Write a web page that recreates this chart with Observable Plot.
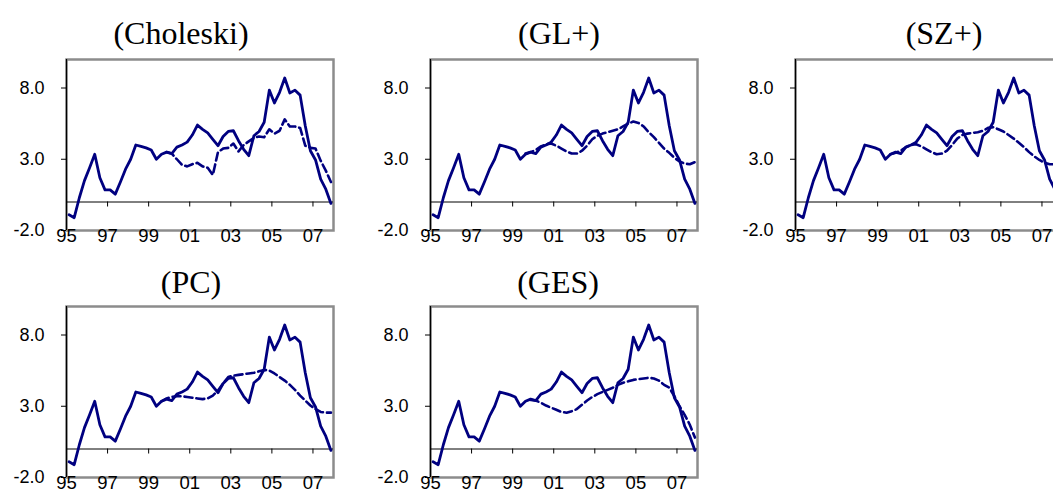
<!DOCTYPE html>
<html>
<head>
<meta charset="utf-8">
<script src="https://cdn.jsdelivr.net/npm/d3@7"></script>
<script src="https://cdn.jsdelivr.net/npm/@observablehq/plot@0.6"></script>
<style>
  html, body { margin: 0; padding: 0; background: #ffffff; overflow: hidden; }
  #wrap { position: relative; width: 1053px; height: 489px; overflow: hidden; background: #fff; }
  .panel { position: absolute; width: 364px; height: 247px; }
  .panel svg { max-width: none !important; }
</style>
</head>
<body>
<div id="wrap"></div>
<script>
// ---- data (quarterly, 1995Q1 .. 2007Q4) ----
const startYear = 1995;
const actual = [
  -0.9, -1.1, 0.3, 1.5, 2.4, 3.35, 1.7, 0.85,
  0.85, 0.55, 1.4, 2.3, 3.0, 4.0, 3.9, 3.8,
  3.65, 3.0, 3.35, 3.5, 3.4, 3.85, 4.0, 4.2,
  4.7, 5.4, 5.1, 4.85, 4.4, 3.95, 4.6, 4.95,
  5.0, 4.3, 3.7, 3.25, 4.65, 4.95, 5.6, 7.85,
  6.95, 7.7, 8.7, 7.65, 7.85, 7.5, 5.35, 3.6,
  2.95, 1.6, 0.9, -0.1
];
const N = null;
const choleski = [
  N, N, N, N, N, N, N, N, N, N, N, N, N, N, N, N,
  N, N, N, 3.5, 3.4, 3.0, 2.6, 2.5,
  2.65, 2.75, 2.5, 2.4, 1.9, 3.5, 3.75, 3.8,
  4.1, 3.55, 4.0, 4.25, 4.5, 4.6, 4.55, 5.1,
  4.8, 5.0, 5.8, 5.3, 5.3, 5.2, 3.95, 3.8,
  3.75, 2.9, 2.2, 1.4
];
const glPlus = [
  N, N, N, N, N, N, N, N, N, N, N, N, N, N, N, N,
  N, N, 3.4, 3.5, 3.65, 3.9, 4.05, 4.1,
  3.95, 3.75, 3.55, 3.4, 3.4, 3.6, 3.95, 4.4,
  4.65, 4.8, 4.9, 5.0, 5.1, 5.3, 5.5, 5.65,
  5.55, 5.3, 4.9, 4.55, 4.15, 3.75, 3.45, 3.1,
  2.85, 2.7, 2.65, 2.8
];
const szPlus = [
  N, N, N, N, N, N, N, N, N, N, N, N, N, N, N, N,
  N, N, 3.35, 3.45, 3.6, 3.85, 4.0, 4.05,
  3.9, 3.7, 3.5, 3.35, 3.4, 3.6, 4.0, 4.45,
  4.7, 4.8, 4.85, 4.9, 5.0, 5.2, 5.25, 5.1,
  4.95, 4.7, 4.45, 4.15, 3.85, 3.5, 3.2, 2.95,
  2.75, 2.65, 2.65, 2.7
];
const pc = [
  N, N, N, N, N, N, N, N, N, N, N, N, N, N, N, N,
  N, N, 3.35, 3.55, 3.65, 3.7, 3.7, 3.65,
  3.6, 3.55, 3.5, 3.55, 3.75, 4.1, 4.6, 5.05,
  5.15, 5.2, 5.25, 5.3, 5.35, 5.45, 5.55, 5.5,
  5.3, 5.05, 4.8, 4.5, 4.15, 3.75, 3.4, 3.05,
  2.8, 2.6, 2.55, 2.55
];
const ges = [
  N, N, N, N, N, N, N, N, N, N, N, N, N, N, N, N,
  N, N, N, 3.45, 3.4, 3.25, 3.05, 2.9,
  2.75, 2.6, 2.55, 2.65, 2.8, 3.1, 3.4, 3.65,
  3.85, 4.0, 4.15, 4.3, 4.5, 4.65, 4.75, 4.85,
  4.9, 4.95, 5.0, 4.95, 4.8, 4.5, 4.3, 3.7,
  3.0, 2.4, 1.7, 0.8
];

const panelTitles = ["(Choleski)", "(GL+)", "(SZ+)", "(PC)", "(GES)"];
const panelSeries = [choleski, glPlus, szPlus, pc, ges];
const yTicks = [-2, 3, 8];
const yTickLabels = ["-2.0", "3.0", "8.0"];
const xTickYears = [1995, 1997, 1999, 2001, 2003, 2005, 2007];
const xTickLabels = ["95", "97", "99", "01", "03", "05", "07"];

// ---- layout ----
const panelLefts = [0, 364, 729, 0, 364];
const panelTops = [0, 0, 0, 247, 247];
const titleDx = [-19, -5, 15, -9, -6];
const titleDy = [-16, -16, -16, -14, -14];

const navy = "#000080";
const sans = "'Liberation Sans', Arial, Helvetica, sans-serif";
const serif = "'Liberation Serif', 'Times New Roman', Times, serif";

function makePanel(k) {
  const cf = panelSeries[k];
  const rows = actual.map((v, i) => ({t: startYear + (i + 0.5) / 4, actual: v, cf: cf[i]}));
  return Plot.plot({
    width: 364,
    height: 247,
    marginLeft: 66,
    marginRight: 31,
    marginTop: 59,
    marginBottom: 17,
    style: {fontFamily: sans, fontSize: "18px", color: "black", background: "transparent", overflow: "visible", maxWidth: "none"},
    x: {domain: [1995, 2008]},
    y: {domain: [-2, 10]},
    marks: [
      Plot.frame({stroke: "#8c8c8c", strokeWidth: 2.5}),
      Plot.ruleY([0], {stroke: "black", strokeWidth: 1}),
      Plot.ruleX(xTickYears.slice(1), {y1: 0, y2: 0, insetBottom: -5, stroke: "black", strokeWidth: 1}),
      Plot.ruleX([xTickYears[0]], {stroke: "black", strokeWidth: 1.2}),
      Plot.axisY(yTicks, {
        tickSize: 5, tickPadding: 17,
        tickFormat: (d) => yTickLabels[yTicks.indexOf(d)],
        label: null, fontSize: 18, fontFamily: sans, stroke: "black"
      }),
      Plot.axisX(xTickYears, {
        anchor: "bottom", tickSize: 0, tickPadding: -2,
        tickFormat: (d) => xTickLabels[xTickYears.indexOf(d)],
        label: null, fontSize: 18.5, fontFamily: sans
      }),
      Plot.line(rows.filter((d) => d.cf != null), {
        x: "t", y: "cf", stroke: navy, strokeWidth: 2.6, strokeDasharray: "8,4"
      }),
      Plot.line(rows, {x: "t", y: "actual", stroke: navy, strokeWidth: 2.8}),
      Plot.text([panelTitles[k]], {
        frameAnchor: "top", dx: titleDx[k], dy: titleDy[k], lineAnchor: "bottom",
        fontFamily: serif, fontSize: 32, fill: "black"
      })
    ]
  });
}

const wrap = document.getElementById("wrap");
for (let k = 0; k < panelTitles.length; k++) {
  const div = document.createElement("div");
  div.className = "panel";
  div.style.left = panelLefts[k] + "px";
  div.style.top = panelTops[k] + "px";
  div.appendChild(makePanel(k));
  wrap.appendChild(div);
}
</script>
</body>
</html>
